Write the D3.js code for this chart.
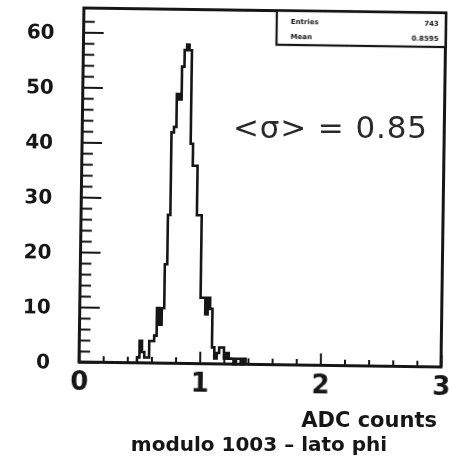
<!DOCTYPE html>
<html>
<head>
<meta charset="utf-8">
<script src="https://cdn.jsdelivr.net/npm/d3@7"></script>
<style>
    body { margin: 0; background: #fff; }
</style>
</head>
<body>
<div id="chart"></div>
<script>
// Histogram bins (ADC counts), first bin low edge and bin width
let binLow = 0.48;
let binWidth = 0.02;
let counts = [1, 4, 2, 1, 1, 4, 4, 5, 10, 7, 10, 18, 27, 42, 43, 49, 48, 54, 57, 58, 57,
    40, 36, 36, 27, 27, 12, 12, 9, 12, 10, 3, 1, 2, 3, 3, 1, 2, 1, 1, 0, 1, 1, 0, 1];

// Axis labels
let xTickLabels = [0, 1, 2, 3];
let yTickLabels = [0, 10, 20, 30, 40, 50, 60];
let xTitle = "ADC counts";
let subTitle = "modulo 1003 \u2013 lato phi";
let note = "<\u03c3> = 0.85";

let ink = "#161616";
let width = 449, height = 461;
let plotW = 362, plotH = 354;

let svg = d3.select("#chart").append("svg")
    .attr("width", width).attr("height", height);

// soft blur, the original is a scan
svg.append("defs").append("filter").attr("id", "scan")
    .append("feGaussianBlur").attr("stdDeviation", 0.55);

let root = svg.append("g").attr("filter", "url(#scan)");

// the scanned page is slightly rotated
let plot = root.append("g")
    .attr("transform", "translate(79,8) rotate(0.8, 0, " + plotH + ")");

let xScale = d3.scaleLinear().domain([0, 3]).range([0, plotW]);
let yScale = d3.scaleLinear().domain([0, 64.4]).range([plotH, 0]);

// x axis: major ticks with labels, minor ticks every 0.2
let xMajor = d3.axisBottom(xScale).tickValues(xTickLabels).tickSize(-12).tickPadding(10)
    .tickFormat(d3.format("d"));
let xMinor = d3.axisBottom(xScale)
    .tickValues(d3.range(0.2, 3, 0.2).filter(d => Math.abs(d - Math.round(d)) > 0.01))
    .tickSize(-6).tickFormat("");

plot.append("g").attr("class", "x-minor").attr("transform", "translate(0," + plotH + ")").call(xMinor);
plot.append("g").attr("class", "x-major").attr("transform", "translate(0," + plotH + ")").call(xMajor);

// y axis: major every 10, minor every 2
let yMajor = d3.axisLeft(yScale).tickValues(yTickLabels).tickSize(-20).tickPadding(29);
let yMinor = d3.axisLeft(yScale)
    .tickValues(d3.range(2, 64, 2).filter(d => d % 10 !== 0))
    .tickSize(-11).tickFormat("");

plot.append("g").attr("class", "y-minor").call(yMinor);
plot.append("g").attr("class", "y-major").call(yMajor);

plot.selectAll(".domain").remove();
plot.selectAll(".tick line").attr("stroke", ink).attr("stroke-width", 2);

plot.selectAll(".x-major text")
    .attr("fill", ink)
    .style("font-family", "DejaVu Sans")
    .style("font-weight", "bold")
    .style("font-size", "26px");

plot.selectAll(".y-major text")
    .attr("fill", ink)
    .style("font-family", "DejaVu Sans")
    .style("font-weight", "bold")
    .style("font-size", "20px");

// histogram outline, drawn as steps
let pts = [{e: binLow, c: 0}];
counts.forEach((c, i) => pts.push({e: binLow + i * binWidth, c: c}));
pts.push({e: binLow + counts.length * binWidth, c: 0});

let stepLine = d3.line()
    .x(d => xScale(d.e))
    .y(d => yScale(d.c))
    .curve(d3.curveStepAfter);

plot.append("path")
    .attr("d", stepLine(pts))
    .attr("fill", "none")
    .attr("stroke", ink)
    .attr("stroke-width", 2.6);

// frame
plot.append("rect")
    .attr("x", 0).attr("y", 0)
    .attr("width", plotW).attr("height", plotH)
    .attr("fill", "none")
    .attr("stroke", ink)
    .attr("stroke-width", 3);

// stats box in the top right corner
let entries = d3.sum(counts);
let mean = d3.sum(counts, (c, i) => c * (binLow + (i + 0.5) * binWidth)) / entries;
let box = plot.append("g").attr("transform", "translate(" + (plotW - 169) + ",0)");
box.append("rect")
    .attr("width", 169).attr("height", 34)
    .attr("fill", "#fff").attr("stroke", ink).attr("stroke-width", 2.2);
let rows = [["Entries", entries], ["Mean", d3.format(".4f")(mean)]];
rows.forEach((r, i) => {
    box.append("text").text(r[0])
        .attr("x", 14).attr("y", 13 + i * 15)
        .attr("fill", ink).style("font-family", "DejaVu Sans")
        .style("font-weight", "bold").style("font-size", "7px");
    box.append("text").text(r[1])
        .attr("x", 162).attr("y", 13 + i * 15)
        .attr("text-anchor", "end")
        .attr("fill", ink).style("font-family", "DejaVu Sans")
        .style("font-weight", "bold").style("font-size", "7px");
});

// titles
root.append("text").text(xTitle)
    .attr("x", 437).attr("y", 427)
    .attr("text-anchor", "end")
    .attr("fill", ink)
    .style("font-family", "DejaVu Sans")
    .style("font-weight", "bold")
    .style("font-size", "21px");

root.append("text").text(subTitle)
    .attr("x", 259).attr("y", 451)
    .attr("text-anchor", "middle")
    .attr("fill", ink)
    .style("font-family", "DejaVu Sans")
    .style("font-weight", "bold")
    .style("font-size", "20px");

// handwritten note
root.append("text").text(note)
    .attr("x", 233).attr("y", 138)
    .attr("textLength", 194)
    .attr("lengthAdjust", "spacing")
    .attr("fill", "#2a2a2a")
    .style("font-family", "DejaVu Sans")
    .style("font-size", "31px");
</script>
</body>
</html>
